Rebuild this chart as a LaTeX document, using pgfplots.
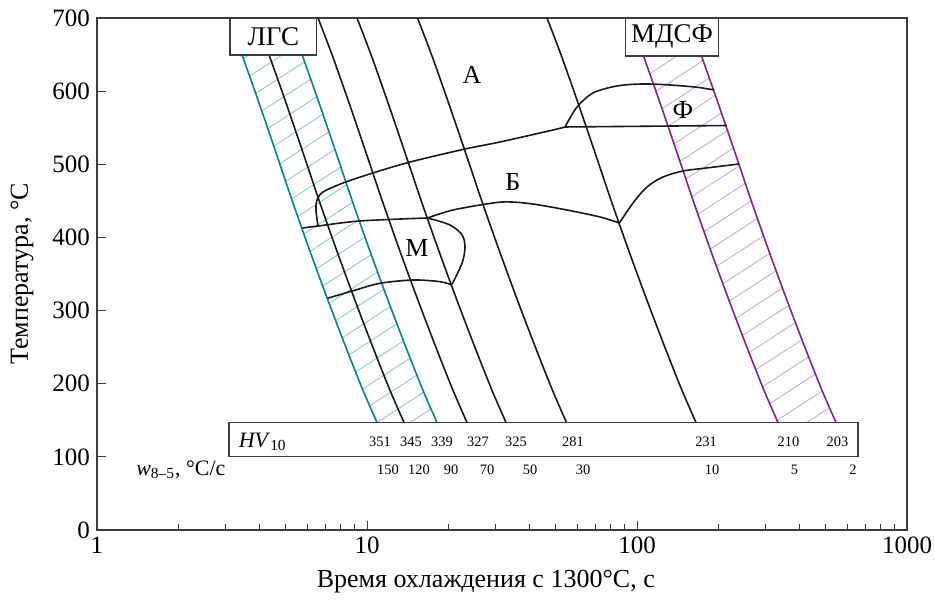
\documentclass[border=0pt]{standalone}
\usepackage{fontspec}
\setmainfont{Liberation Serif}
\usepackage{pgfplots}
\pgfplotsset{compat=1.18}
\usetikzlibrary{patterns.meta}
\definecolor{tealc}{RGB}{0,133,138}
\definecolor{tealh}{RGB}{140,200,202}
\definecolor{purp}{RGB}{125,35,145}
\definecolor{purph}{RGB}{192,172,225}
\definecolor{axc}{RGB}{60,60,60}
\definecolor{lc}{RGB}{25,25,25}
\begin{document}
\begin{tikzpicture}
\useasboundingbox (-48.5pt,-36.5pt) rectangle (419pt,265pt);
\begin{axis}[
  at={(0,0)}, anchor=south west,
  scale only axis, width=405pt, height=256pt,
  xmode=log, xmin=1, xmax=1000, ymin=0, ymax=700,
  xtick={1,10,100,1000}, xticklabels={1,10,100,1000},
  ytick={0,100,200,300,400,500,600,700},
  tick align=inside, tick pos=left,
  major tick length=4.5pt, minor tick length=3pt,
  axis line style={axc, line width=0.6pt},
  every tick/.style={axc, line width=0.5pt},
  tick label style={font=\fontsize{12.5}{14}\selectfont},
  /pgf/number format/assume math mode=true,
  xlabel={Время охлаждения с 1300°C, с},
  ylabel={Температура, °C},
  label style={font=\fontsize{13}{15}\selectfont},
  xlabel style={at={(axis description cs:0.48,-0.1)}, anchor=center},
  ylabel style={at={(axis description cs:-0.0926,0.5)}, anchor=center},
  clip=false,
  curve/.style={smooth, tension=0.5, line width=0.8pt, color=lc},
]
% hatched bands
\addplot[draw=none, pattern={Lines[angle=33,distance=9pt,line width=0.45pt]}, pattern color=tealh] coordinates {(3.443,650)(3.947,588)(4.563,520)(5.275,451)(6.124,383)(7.170,314)(8.431,246)(9.663,191)(10.89,147)(18.17,147)(16.123,191)(14.067,246)(11.963,314)(10.218,383)(8.801,451)(7.613,520)(6.586,588)(5.745,650)} -- cycle;
\addplot[draw=none, pattern={Lines[angle=33,distance=9pt,line width=0.45pt]}, pattern color=purph] coordinates {(105.23,650)(120.64,588)(139.46,520)(161.22,451)(187.17,383)(219.14,314)(257.69,246)(295.34,191)(332.8,147)(545.8,147)(484.30,191)(422.55,246)(359.35,314)(306.93,383)(264.38,451)(228.69,520)(197.82,588)(172.56,650)} -- cycle;
% LGS band (teal)
\addplot[curve, color=tealc] coordinates {(3.443,650)(3.947,588)(4.563,520)(5.275,451)(6.124,383)(7.170,314)(8.431,246)(9.663,191)(10.89,147)};
\addplot[curve] coordinates {(4.334,650)(4.969,588)(5.744,520)(6.641,451)(7.710,383)(9.026,314)(10.614,246)(12.165,191)(13.71,147)};
\addplot[curve, color=tealc] coordinates {(5.745,650)(6.586,588)(7.613,520)(8.801,451)(10.218,383)(11.963,314)(14.067,246)(16.123,191)(18.17,147)};
% black cooling curves
\addplot[curve] coordinates {(6.585,700)(7.419,650)(8.505,588)(9.832,520)(11.366,451)(13.195,383)(15.449,314)(18.166,246)(20.821,191)(23.46,147)};
\addplot[curve] coordinates {(9.182,700)(10.346,650)(11.860,588)(13.711,520)(15.850,451)(18.401,383)(21.544,314)(25.333,246)(29.035,191)(32.72,147)};
\addplot[curve] coordinates {(15.38,700)(17.33,650)(19.87,588)(22.97,520)(26.55,451)(30.83,383)(36.09,314)(42.44,246)(48.64,191)(54.82,147)};
\addplot[curve] coordinates {(46.41,700)(52.28,650)(59.94,588)(69.29,520)(80.10,451)(92.99,383)(108.88,314)(128.02,246)(146.73,191)(165.4,147)};
% MDSF band (purple)
\addplot[curve, color=purp] coordinates {(105.23,650)(120.64,588)(139.46,520)(161.22,451)(187.17,383)(219.14,314)(257.69,246)(295.34,191)(332.8,147)};
\addplot[curve, color=purp] coordinates {(172.56,650)(197.82,588)(228.69,520)(264.38,451)(306.93,383)(359.35,314)(422.55,246)(484.30,191)(545.8,147)};
% transformation lines
\addplot[curve] coordinates {(6.585,415.6)(6.47,437.5)(6.53,451.2)(6.87,462.1)(8.15,474.4)(10.52,488.1)(14.43,503.1)(23.07,520.9)(31.1,530.5)(48.86,546.9)(54.12,551)};
\addplot[curve] coordinates {(54.12,551)(59.95,578.3)(68.7,597.5)(84.3,607.1)(105.3,609.8)(132.5,608.4)(166.8,605.3)(193,601.6)};
\addplot[curve] coordinates {(54.12,551)(215,553)};
\addplot[curve] coordinates {(16.77,426.6)(20.82,437.5)(29.29,447.1)(33.85,448.5)(41.19,445.7)(55.05,437.5)(72.9,428.0)(86.0,419.7)};
\addplot[curve] coordinates {(86.0,419.7)(96.6,447)(108.9,469)(124.8,482.6)(148,490.8)(181.6,495)(238.7,500.4)};
\addplot[curve] coordinates {(5.76,412.9)(6.585,415.6)(9.421,422.5)(16.77,426.6)};
\addplot[curve] coordinates {(16.77,426.6)(20.3,417)(22.5,403.3)(23.07,386.9)(22.5,365)(20.59,335)};
\addplot[curve] coordinates {(7.14,316.8)(8.90,327.2)(11.17,337.3)(14.84,341.8)(18.64,339.5)(20.59,335)};
% boxes
\addplot[axc, line width=0.6pt, fill=white] coordinates {(3.11,649.4)(6.51,649.4)(6.51,700)(3.11,700)} -- cycle;
\addplot[axc, line width=0.6pt, fill=white] coordinates {(90.8,648)(200,648)(200,700)(90.8,700)} -- cycle;
\addplot[axc, line width=0.6pt, fill=white] coordinates {(3.08,100.2)(658,100.2)(658,147.2)(3.08,147.2)} -- cycle;
% phase labels
\node[font=\fontsize{13}{15}\selectfont, inner sep=0pt] at (axis cs:24.5,622) {А};
\node[font=\fontsize{13}{15}\selectfont, inner sep=0pt] at (axis cs:34.7,476) {Б};
\node[font=\fontsize{13}{15}\selectfont, inner sep=0pt] at (axis cs:15.3,386) {М};
\node[font=\fontsize{13}{15}\selectfont, inner sep=0pt] at (axis cs:148,574) {Ф};
\node[font=\fontsize{13.5}{15}\selectfont] at (axis cs:4.5,675) {ЛГС};
\node[font=\fontsize{13.5}{15}\selectfont] at (axis cs:134.8,675) {МДСФ};
\node[anchor=west, inner sep=0pt, font=\fontsize{11}{13}\selectfont] at (axis cs:3.34,120.5) {\textit{HV}\textsubscript{10}};
\node[anchor=east, inner sep=0pt, font=\fontsize{11}{13}\selectfont] at (axis cs:3.0,82) {\textit{w}\textsubscript{8–5}, °C/с};
\node[font=\fontsize{7.2}{8}\selectfont, inner sep=0pt] at (axis cs:11.17,120.5) {351};
\node[font=\fontsize{7.2}{8}\selectfont, inner sep=0pt] at (axis cs:14.55,120.5) {345};
\node[font=\fontsize{7.2}{8}\selectfont, inner sep=0pt] at (axis cs:18.96,120.5) {339};
\node[font=\fontsize{7.2}{8}\selectfont, inner sep=0pt] at (axis cs:25.77,120.5) {327};
\node[font=\fontsize{7.2}{8}\selectfont, inner sep=0pt] at (axis cs:35.63,120.5) {325};
\node[font=\fontsize{7.2}{8}\selectfont, inner sep=0pt] at (axis cs:57.94,120.5) {281};
\node[font=\fontsize{7.2}{8}\selectfont, inner sep=0pt] at (axis cs:180.2,120.5) {231};
\node[font=\fontsize{7.2}{8}\selectfont, inner sep=0pt] at (axis cs:363.9,120.5) {210};
\node[font=\fontsize{7.2}{8}\selectfont, inner sep=0pt] at (axis cs:552.7,120.5) {203};
\node[font=\fontsize{7.2}{8}\selectfont, inner sep=0pt] at (axis cs:11.96,82) {150};
\node[font=\fontsize{7.2}{8}\selectfont, inner sep=0pt] at (axis cs:15.58,82) {120};
\node[font=\fontsize{7.2}{8}\selectfont, inner sep=0pt] at (axis cs:20.47,82) {90};
\node[font=\fontsize{7.2}{8}\selectfont, inner sep=0pt] at (axis cs:27.83,82) {70};
\node[font=\fontsize{7.2}{8}\selectfont, inner sep=0pt] at (axis cs:40.16,82) {50};
\node[font=\fontsize{7.2}{8}\selectfont, inner sep=0pt] at (axis cs:63.1,82) {30};
\node[font=\fontsize{7.2}{8}\selectfont, inner sep=0pt] at (axis cs:189.6,82) {10};
\node[font=\fontsize{7.2}{8}\selectfont, inner sep=0pt] at (axis cs:383.1,82) {5};
\node[font=\fontsize{7.2}{8}\selectfont, inner sep=0pt] at (axis cs:631,82) {2};
\end{axis}
\end{tikzpicture}
\end{document}
